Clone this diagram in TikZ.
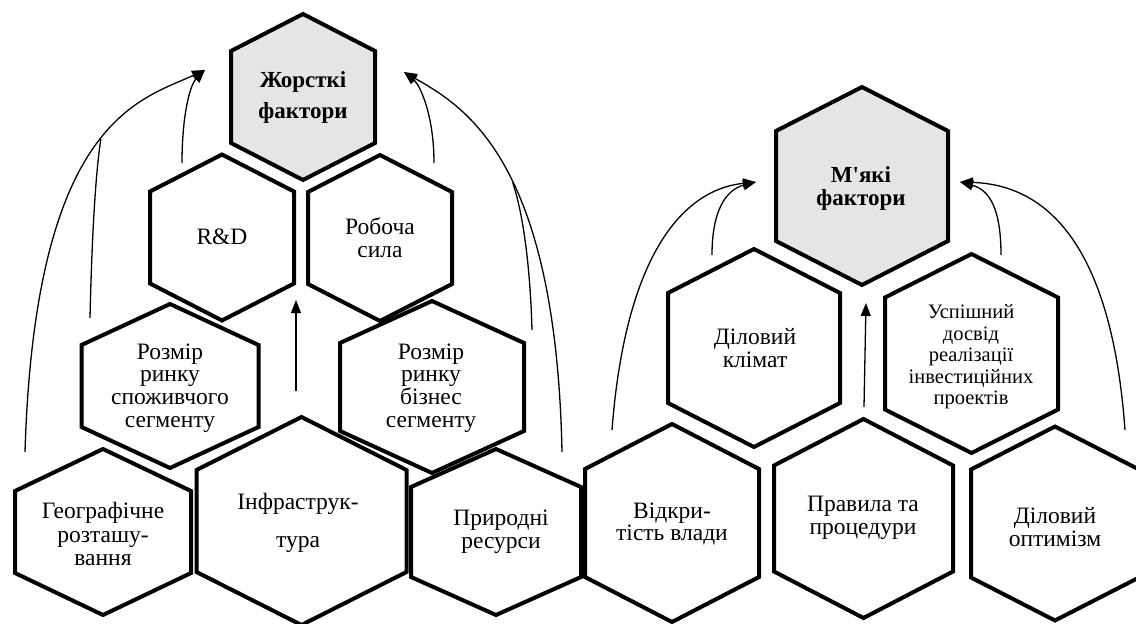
\documentclass[tikz,border=0pt]{standalone}
\usepackage{fontspec}
\setmainfont{Liberation Serif}
\usetikzlibrary{arrows.meta}
\tikzset{
  hexline/.style={line width=4pt, draw=black},
  hexgray/.style={fill=black!10},
  lbl/.style={align=center, inner sep=0pt, font=\fontsize{23.5}{22.7}\selectfont},
  conn/.style={line width=1.3pt, -{Triangle[length=13pt,width=10pt]}},
  connplain/.style={line width=1.3pt},
}
% #1 extra style, #2 cx, #3 cy, #4 half-width, #5 half-height, #6 corner offset
\newcommand{\hexat}[6][]{\draw[hexline,#1] (#2,#3-#5) -- (#2+#4,#3-#6) -- (#2+#4,#3+#6) -- (#2,#3+#5) -- (#2-#4,#3+#6) -- (#2-#4,#3-#6) -- cycle;}
\begin{document}
\begin{tikzpicture}[x=1pt,y=-1pt]
\useasboundingbox (0,0) rectangle (1136,624);
% hexagons
\hexat[hexgray]{303}{97}{72}{83}{46}
\hexat{222}{237.5}{72}{83}{46}
\hexat{380}{238}{72}{83}{46}
\hexat{170}{386}{88.5}{82}{41}
\hexat{432}{387}{92}{86}{44}
\hexat{103}{532}{88}{83}{41}
\hexat{301.5}{521}{105}{104}{51}
\hexat{496}{532}{85}{83}{45}
\hexat{672}{523}{87}{99}{54}
\hexat{863.5}{518.5}{89.5}{99.5}{53}
\hexat{1055}{523.5}{84}{97}{54}
\hexat[hexgray]{862}{186}{86}{99}{55}
\hexat{754}{348}{86}{99}{55}
\hexat{971.5}{353.5}{86.5}{99.5}{56}
% labels
\node[lbl, font=\fontsize{23}{31}\selectfont\bfseries] (hard) at (303,97) {Жорсткі\\фактори};
\node[lbl] (rd) at (222,237) {R\&D};
\node[lbl] (rob) at (380,238) {Робоча\\сила};
\node[lbl] (roz1) at (170,388) {Розмір\\ринку\\споживчого\\сегменту};
\node[lbl] (roz2) at (431,388) {Розмір\\ринку\\бізнес\\сегменту};
\node[lbl, font=\fontsize{23.5}{23.5}\selectfont] (geo) at (103,534) {Географічне\\розташу-\\вання};
\node[lbl, font=\fontsize{23.5}{38}\selectfont] (inf) at (298,523) {Інфраструк-\\тура};
\node[lbl] (pri) at (501,532) {Природні\\ресурси};
\node[lbl] (vid) at (672,524) {Відкри-\\тість влади};
\node[lbl] (pra) at (863,518) {Правила та\\процедури};
\node[lbl] (opt) at (1055,527) {Діловий\\оптимізм};
\node[lbl, font=\fontsize{23}{23}\selectfont\bfseries] (soft) at (861,188) {М\textquotesingle які\\фактори};
\node[lbl] (klim) at (755,348) {Діловий\\клімат};
\node[lbl, font=\fontsize{20.5}{21.5}\selectfont] (usp) at (971,357) {Успішний\\досвід\\реалізації\\інвестиційних\\проектів};
% connector end points
\coordinate (tipL) at (205,70);
\coordinate (a1s) at (182,163);
\coordinate (a2s) at (25,452);
\coordinate (a3s) at (90,318);
\coordinate (tipR) at (404,72);
\coordinate (a4s) at (434,163);
\coordinate (a5s) at (562,452);
\coordinate (a6s) at (532,330);
\coordinate (mhS) at (296,391);
\coordinate (mhT) at (296,300);
\coordinate (tipSL) at (756,182);
\coordinate (a7s) at (712,255);
\coordinate (a8s) at (612,430);
\coordinate (tipSR) at (960,182);
\coordinate (a9s) at (1001,255);
\coordinate (a10s) at (1125,430);
\coordinate (msS) at (864,407);
\coordinate (msT) at (866,303);
% connectors: hard factors
\draw[conn] (a1s) .. controls (182,115) and (190,85) .. (tipL);
\draw[conn] (a2s) .. controls (35,120) and (140,100) .. (tipL) coordinate[pos=0.53] (m1);
\draw[connplain] (a3s) .. controls (92,230) and (96,170) .. (m1);
\draw[conn] (a4s) .. controls (434,115) and (420,85) .. (tipR);
\draw[conn] (a5s) .. controls (556,160) and (465,107) .. (tipR) coordinate[pos=0.45] (m2);
\draw[connplain] (a6s) .. controls (530,260) and (522,210) .. (m2);
\draw[conn] (mhS) -- (mhT);
% connectors: soft factors
\draw[conn] (a7s) .. controls (712,212) and (725,190) .. (tipSL);
\draw[conn] (a8s) .. controls (625,260) and (680,190) .. (tipSL);
\draw[conn] (a9s) .. controls (1001,210) and (990,190) .. (tipSR);
\draw[conn] (a10s) .. controls (1112,250) and (1050,185) .. (tipSR);
\draw[conn] (msS) -- (msT);
\end{tikzpicture}
\end{document}
